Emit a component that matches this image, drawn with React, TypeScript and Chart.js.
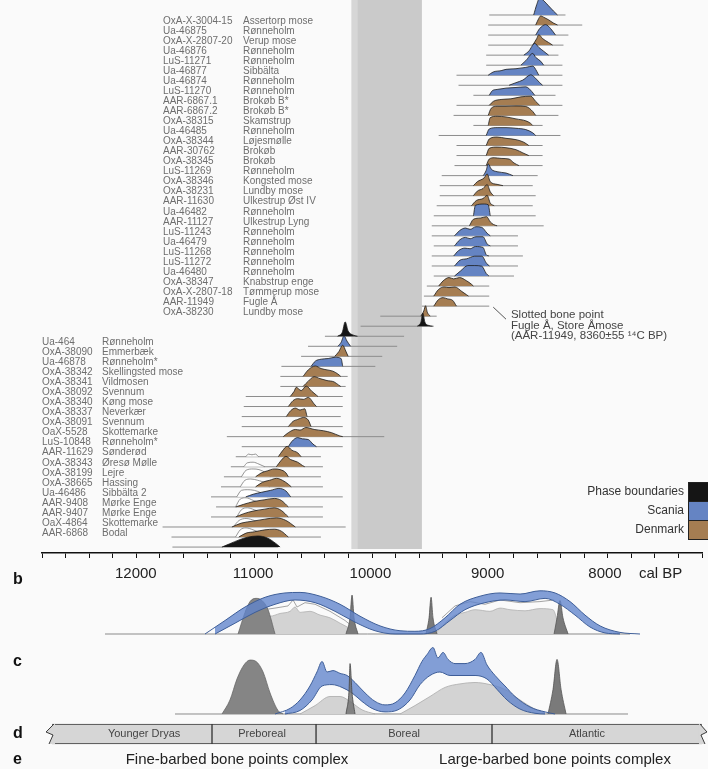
import React, { useEffect, useRef } from 'react';
import { Chart, registerables } from 'chart.js';

Chart.register(...registerables);

const FONT = '"Liberation Sans", Arial, sans-serif';

// ---------- axis ----------
const axisLeftYear = 12800;
const axisRightYear = 7173;
const fullLeftYear = 13148;
const tickStep = 200;
const tickLabels = [12000, 11000, 10000, 9000, 8000];

// grey band behind the ridges
const bandFrom = 10160;
const bandTo = 9561;

// ---------- ridge rows (top to bottom) ----------
const rowIds = [
  '', 'OxA-X-3004-15', 'Ua-46875', 'OxA-X-2807-20', 'Ua-46876', 'LuS-11271', 'Ua-46877', 'Ua-46874', 'LuS-11270',
  'AAR-6867.1', 'AAR-6867.2', 'OxA-38315', 'Ua-46485', 'OxA-38344', 'AAR-30762', 'OxA-38345', 'LuS-11269',
  'OxA-38346', 'OxA-38231', 'AAR-11630', 'Ua-46482', 'AAR-11127', 'LuS-11243', 'Ua-46479', 'LuS-11268',
  'LuS-11272', 'Ua-46480', 'OxA-38347', 'OxA-X-2807-18', 'AAR-11949', 'OxA-38230', '', '',
  'Ua-464', 'OxA-38090', 'Ua-46878', 'OxA-38342', 'OxA-38341', 'OxA-38092', 'OxA-38340', 'OxA-38337',
  'OxA-38091', 'OaX-5528', 'LuS-10848', 'AAR-11629', 'OxA-38343', 'OxA-38199', 'OxA-38665', 'Ua-46486',
  'AAR-9408', 'AAR-9407', 'OaX-4864', 'AAR-6868', '',
];
const rowSites = [
  '', 'Assertorp mose', 'Rønneholm', 'Verup mose', 'Rønneholm', 'Rønneholm', 'Sibbälta', 'Rønneholm', 'Rønneholm',
  'Brokøb B*', 'Brokøb B*', 'Skamstrup', 'Rønneholm', 'Løjesmølle', 'Brokøb', 'Brokøb', 'Rønneholm',
  'Kongsted mose', 'Lundby mose', 'Ulkestrup Øst IV', 'Rønneholm', 'Ulkestrup Lyng', 'Rønneholm', 'Rønneholm', 'Rønneholm',
  'Rønneholm', 'Rønneholm', 'Knabstrup enge', 'Tømmerup mose', 'Fugle Å', 'Lundby mose', '', '',
  'Rønneholm', 'Emmerbæk', 'Rønneholm*', 'Skellingsted mose', 'Vildmosen', 'Svennum', 'Køng mose', 'Neverkær',
  'Svennum', 'Skottemarke', 'Rønneholm*', 'Sønderød', 'Øresø Mølle', 'Lejre', 'Hassing', 'Sibbälta 2',
  'Mørke Enge', 'Mørke Enge', 'Skottemarke', 'Bodal', '',
];
// S = Scania, D = Denmark, P = phase boundary
const rowKinds = [
  'S', 'D', 'S', 'D', 'S', 'S', 'S', 'S', 'S', 'D', 'D', 'D', 'S', 'D', 'D', 'D', 'S', 'D', 'D', 'D',
  'S', 'D', 'S', 'S', 'S', 'S', 'S', 'D', 'D', 'D', 'D', 'P', 'P',
  'S', 'D', 'S', 'D', 'D', 'D', 'D', 'D', 'D', 'D', 'S', 'D', 'D', 'D', 'D', 'S', 'D', 'D', 'D', 'D', 'P',
];
const rangeFrom = [
  8987, 8996, 8996, 8996, 9013, 9013, 9266, 9249, 9122, 9266, 9291, 9122, 9418, 9266, 9266, 9283, 9392,
  9409, 9409, 9435, 9460, 9477, 9477, 9460, 9477, 9477, 9460, 9519, 9544, 9561, 9916, 10084, 10388,
  10532, 10591, 10759, 10768, 10768, 11063, 11080, 11097, 11097, 11224, 11097, 11148, 11190, 11249, 11274, 11359,
  11316, 11359, 11772, 11696, 11688,
];
const rangeTo = [
  8337, 8194, 8312, 8354, 8397, 8363, 8363, 8363, 8422, 8363, 8397, 8532, 8380, 8532, 8532, 8532, 8574,
  8616, 8591, 8616, 8591, 8523, 8742, 8742, 8700, 8742, 8776, 8987, 8987, 8987, 9435, 9460, 9713,
  9772, 9899, 9958, 10194, 10211, 10236, 10236, 10253, 10236, 9882, 10236, 10422, 10405, 10422, 10405, 10236,
  10405, 10405, 10211, 10422, 10785,
];
// posterior densities: [cal BP, relative height]
const curves = [
  [[8608, 0], [8582, 0.8], [8557, 1.3], [8523, 1.1], [8481, 0.7], [8439, 0.3], [8405, 0]],
  [[8591, 0], [8565, 0.5], [8548, 0.7], [8523, 0.6], [8481, 0.4], [8439, 0.15], [8405, 0]],
  [[8591, 0], [8557, 0.5], [8506, 0.8], [8464, 0.5], [8422, 0]],
  [[8616, 0], [8582, 0.5], [8565, 0.8], [8532, 0.5], [8481, 0.2], [8447, 0]],
  [[8692, 0], [8650, 0.3], [8599, 0.9], [8565, 0.6], [8523, 0.3], [8481, 0]],
  [[8717, 0], [8675, 0.35], [8616, 0.9], [8591, 0.6], [8548, 0.3], [8523, 0]],
  [[8996, 0], [8953, 0.25], [8886, 0.35], [8844, 0.45], [8759, 0.5], [8675, 0.6], [8616, 0.7], [8582, 0.3], [8565, 0]],
  [[8818, 0], [8759, 0.2], [8700, 0.4], [8633, 0.8], [8599, 0.6], [8557, 0.2], [8532, 0]],
  [[8987, 0], [8961, 0.35], [8920, 0.45], [8844, 0.55], [8759, 0.6], [8675, 0.65], [8625, 0.3], [8599, 0]],
  [[8987, 0], [8953, 0.3], [8886, 0.45], [8802, 0.5], [8717, 0.65], [8633, 0.7], [8591, 0.3], [8557, 0]],
  [[8996, 0], [8970, 0.55], [8920, 0.7], [8844, 0.7], [8759, 0.72], [8675, 0.68], [8616, 0.3], [8591, 0]],
  [[8996, 0], [8978, 0.6], [8920, 0.7], [8844, 0.65], [8759, 0.5], [8675, 0.35], [8633, 0.15], [8616, 0]],
  [[9013, 0], [8987, 0.5], [8920, 0.6], [8844, 0.6], [8759, 0.55], [8675, 0.45], [8616, 0.2], [8591, 0]],
  [[9013, 0], [8987, 0.5], [8920, 0.65], [8844, 0.55], [8759, 0.45], [8692, 0.25], [8650, 0]],
  [[9013, 0], [8987, 0.55], [8920, 0.65], [8844, 0.6], [8759, 0.45], [8700, 0.2], [8650, 0]],
  [[9013, 0], [8987, 0.5], [8945, 0.6], [8886, 0.55], [8818, 0.5], [8776, 0.2], [8734, 0]],
  [[9038, 0], [9013, 0.4], [8996, 0.9], [8970, 0.5], [8920, 0.3], [8844, 0.2], [8785, 0]],
  [[9122, 0], [9089, 0.3], [9030, 0.6], [9005, 0.9], [8978, 0.3], [8920, 0.1], [8870, 0]],
  [[9122, 0], [9089, 0.35], [9040, 0.55], [9005, 0.85], [8978, 0.3], [8950, 0]],
  [[9139, 0], [9097, 0.4], [9040, 0.55], [9005, 0.8], [8978, 0.2], [8945, 0]],
  [[9122, 0], [9105, 0.8], [9030, 0.9], [8996, 0.85], [8978, 0]],
  [[9156, 0], [9122, 0.5], [9060, 0.6], [9010, 0.7], [8978, 0.3], [8950, 0.1], [8920, 0]],
  [[9283, 0], [9240, 0.4], [9190, 0.6], [9150, 0.5], [9100, 0.7], [9050, 0.65], [9005, 0.2], [8978, 0]],
  [[9283, 0], [9240, 0.45], [9190, 0.65], [9150, 0.55], [9100, 0.7], [9040, 0.7], [9005, 0.15], [8978, 0]],
  [[9290, 0], [9250, 0.4], [9195, 0.6], [9150, 0.55], [9105, 0.72], [9040, 0.65], [9013, 0.1], [8990, 0]],
  [[9283, 0], [9235, 0.45], [9180, 0.55], [9110, 0.75], [9050, 0.75], [9010, 0.2], [8985, 0]],
  [[9283, 0], [9230, 0.4], [9170, 0.8], [9110, 0.8], [9050, 0.75], [9013, 0.2], [8990, 0]],
  [[9418, 0], [9380, 0.4], [9330, 0.65], [9290, 0.55], [9240, 0.65], [9180, 0.4], [9140, 0.15], [9122, 0]],
  [[9460, 0], [9420, 0.5], [9370, 0.7], [9330, 0.65], [9280, 0.7], [9220, 0.35], [9180, 0.1], [9164, 0]],
  [[9460, 0], [9420, 0.5], [9380, 0.65], [9340, 0.55], [9300, 0.45], [9266, 0]],
  [[9570, 0], [9545, 0.4], [9530, 0.8], [9515, 0.3], [9490, 0]],
  [[9600, 0], [9570, 0.3], [9553, 1.0], [9535, 0.3], [9500, 0.05], [9470, 0]],
  [[10280, 0], [10240, 0.3], [10215, 1.1], [10190, 0.4], [10150, 0.1], [10110, 0]],
  [[10278, 0], [10250, 0.3], [10225, 0.8], [10200, 0.4], [10169, 0]],
  [[10304, 0], [10270, 0.35], [10236, 0.85], [10210, 0.4], [10190, 0]],
  [[10506, 0], [10470, 0.4], [10420, 0.55], [10360, 0.6], [10300, 0.7], [10250, 0.6], [10236, 0]],
  [[10574, 0], [10530, 0.5], [10470, 0.8], [10420, 0.6], [10370, 0.5], [10320, 0.4], [10280, 0.2], [10253, 0]],
  [[10574, 0], [10530, 0.4], [10480, 0.75], [10430, 0.6], [10370, 0.45], [10310, 0.35], [10270, 0.1], [10253, 0]],
  [[10684, 0], [10650, 0.4], [10633, 0.7], [10590, 0.45], [10548, 0.8], [10500, 0.4], [10460, 0.1], [10447, 0]],
  [[10700, 0], [10660, 0.45], [10620, 0.6], [10570, 0.55], [10530, 0.7], [10480, 0.2], [10460, 0]],
  [[10717, 0], [10680, 0.45], [10640, 0.65], [10600, 0.5], [10560, 0.6], [10540, 0]],
  [[10700, 0], [10660, 0.4], [10620, 0.55], [10570, 0.7], [10530, 0.5], [10506, 0]],
  [[10743, 0], [10700, 0.3], [10640, 0.55], [10600, 0.5], [10550, 0.7], [10480, 0.55], [10400, 0.45], [10330, 0.3], [10260, 0.05], [10236, 0]],
  [[10700, 0], [10670, 0.4], [10620, 0.7], [10580, 0.6], [10530, 0.55], [10490, 0.2], [10460, 0]],
  [[10785, 0], [10750, 0.45], [10710, 0.8], [10670, 0.5], [10620, 0.3], [10591, 0]],
  [[10802, 0], [10760, 0.5], [10720, 0.8], [10680, 0.55], [10620, 0.35], [10580, 0.1], [10560, 0]],
  [[10979, 0], [10930, 0.3], [10880, 0.45], [10820, 0.6], [10770, 0.55], [10720, 0.3], [10700, 0]],
  [[10979, 0], [10920, 0.35], [10860, 0.5], [10800, 0.65], [10750, 0.5], [10700, 0.2], [10675, 0]],
  [[11063, 0], [11000, 0.2], [10930, 0.35], [10850, 0.5], [10780, 0.65], [10720, 0.45], [10680, 0]],
  [[11148, 0], [11080, 0.2], [11000, 0.4], [10900, 0.55], [10820, 0.65], [10760, 0.5], [10700, 0]],
  [[11148, 0], [11080, 0.25], [11000, 0.45], [10900, 0.6], [10820, 0.7], [10760, 0.5], [10700, 0]],
  [[11181, 0], [11100, 0.3], [11000, 0.45], [10900, 0.6], [10800, 0.7], [10720, 0.5], [10640, 0]],
  [[11122, 0], [11060, 0.3], [10990, 0.4], [10900, 0.55], [10820, 0.6], [10760, 0.45], [10700, 0]],
  [[11266, 0], [11200, 0.25], [11120, 0.55], [11050, 0.75], [10960, 0.85], [10880, 0.7], [10810, 0.3], [10770, 0]],
];
// unmodelled (outline) distributions
const priorRows = [44, 45, 46, 47, 48, 49, 50, 51, 52];
const priorCurves = [
  [[11063, 0], [11040, 0.2], [11010, 0.15], [10980, 0.2], [10954, 0]],
  [[11080, 0], [11050, 0.3], [11000, 0.35], [10950, 0.2], [10900, 0]],
  [[11100, 0], [11060, 0.5], [11000, 0.6], [10950, 0.55], [10890, 0.3], [10850, 0]],
  [[11110, 0], [11070, 0.5], [11020, 0.6], [10960, 0.5], [10900, 0.3], [10860, 0]],
  [[11140, 0], [11100, 0.5], [11050, 0.55], [10990, 0.5], [10930, 0.3], [10880, 0]],
  [[11150, 0], [11110, 0.6], [11060, 0.7], [11000, 0.5], [10940, 0.3], [10900, 0]],
  [[11140, 0], [11100, 0.55], [11050, 0.7], [10990, 0.55], [10930, 0.3], [10890, 0]],
  [[11170, 0], [11120, 0.5], [11060, 0.65], [10990, 0.5], [10930, 0.25], [10890, 0]],
  [[11150, 0], [11110, 0.55], [11060, 0.7], [11000, 0.55], [10940, 0.3], [10900, 0]],
];

const legendLabels = ['Phase boundaries', 'Scania', 'Denmark'];
const legendKinds = ['P', 'S', 'D'];

const noteLines = ['Slotted bone point', 'Fugle Å, Store Åmose', '(AAR-11949, 8360±55 ¹⁴C BP)'];

// ---------- panel b ----------
const bBase = [[12262, 0], [7831, 0]];
const bLightLeft = [[11122, 0], [11055, 0.3], [10970, 0.35], [10869, 0.33], [10785, 0.38], [10700, 0.42], [10658, 0.5], [10616, 0.4], [10532, 0.42], [10447, 0.35], [10363, 0.3], [10278, 0.2], [10194, 0.1], [10127, 0]];
const bLightRight = [[9477, 0], [9392, 0.2], [9308, 0.35], [9224, 0.4], [9139, 0.45], [9013, 0.42], [8928, 0.48], [8844, 0.45], [8717, 0.43], [8591, 0.47], [8481, 0.45], [8439, 0.2], [8405, 0]];
const bSumLeft = [[11080, 0.42], [10954, 0.44], [10827, 0.48], [10717, 0.52], [10675, 0.63], [10641, 0.5], [10574, 0.58], [10489, 0.55], [10363, 0.42], [10236, 0.25], [10152, 0.1]];
const bSumRight = [[9418, 0.3], [9308, 0.52], [9181, 0.6], [9055, 0.55], [8928, 0.63], [8759, 0.58], [8591, 0.6], [8472, 0.63]];
const bDarkHump = [[11139, 0], [11080, 0.4], [11038, 0.6], [10987, 0.66], [10937, 0.62], [10886, 0.45], [10827, 0]];
const bSpike1 = [[10228, 0], [10194, 0.3], [10177, 0.72], [10160, 0.3], [10127, 0]];
const bSpike2 = [[9553, 0], [9527, 0.3], [9510, 0.68], [9494, 0.3], [9460, 0]];
const bSpike3 = [[8472, 0], [8447, 0.3], [8422, 0.62], [8397, 0.3], [8354, 0]];
const bBlueUpper = [[11418, 0], [11249, 0.25], [11080, 0.5], [10911, 0.68], [10743, 0.76], [10616, 0.77], [10447, 0.7], [10278, 0.55], [10110, 0.33], [9941, 0.15], [9772, 0.06], [9646, 0.05], [9519, 0.1], [9392, 0.3], [9266, 0.55], [9097, 0.7], [8928, 0.76], [8759, 0.74], [8591, 0.8], [8464, 0.76], [8337, 0.6], [8211, 0.35], [8084, 0.15], [7916, 0.03], [7747, 0]];
const bBlueLower = [[11333, 0], [11165, 0.2], [10996, 0.4], [10827, 0.55], [10658, 0.63], [10489, 0.58], [10321, 0.42], [10152, 0.22], [9983, 0.06], [9814, 0], [9603, 0], [9477, 0.05], [9350, 0.25], [9224, 0.45], [9055, 0.58], [8886, 0.63], [8717, 0.6], [8548, 0.66], [8422, 0.55], [8295, 0.35], [8169, 0.13], [8042, 0.02], [7916, 0]];

// ---------- panel c ----------
const cBase = [[11671, 0], [7848, 0]];
const cLightLeft = [[10616, 0], [10489, 0.12], [10363, 0.25], [10278, 0.25], [10194, 0.18], [10093, 0.06], [9983, 0]];
const cLightRight = [[9772, 0], [9646, 0.12], [9519, 0.25], [9392, 0.38], [9266, 0.43], [9139, 0.45], [9013, 0.42], [8886, 0.35], [8759, 0.2], [8633, 0.07], [8523, 0]];
const cDarkHump = [[11274, 0], [11207, 0.2], [11148, 0.5], [11089, 0.7], [11038, 0.77], [10987, 0.75], [10928, 0.6], [10869, 0.3], [10802, 0.05], [10759, 0]];
const cSpike1 = [[10228, 0], [10202, 0.35], [10194, 0.72], [10177, 0.3], [10152, 0]];
const cSpike2 = [[8523, 0], [8481, 0.35], [8447, 0.78], [8413, 0.35], [8371, 0]];
const cBlueUpper = [[10827, 0], [10700, 0.08], [10616, 0.2], [10532, 0.4], [10473, 0.6], [10430, 0.75], [10388, 0.6], [10338, 0.62], [10278, 0.58], [10219, 0.55], [10152, 0.45], [10067, 0.3], [9983, 0.18], [9899, 0.13], [9814, 0.16], [9730, 0.3], [9646, 0.55], [9587, 0.75], [9544, 0.85], [9494, 0.95], [9452, 0.8], [9409, 0.88], [9367, 0.78], [9308, 0.72], [9224, 0.72], [9139, 0.78], [9089, 0.88], [9038, 0.7], [8970, 0.55], [8886, 0.4], [8802, 0.25], [8675, 0.1], [8548, 0.03], [8464, 0]];
const cBlueLower = [[10743, 0], [10616, 0.05], [10515, 0.2], [10430, 0.4], [10346, 0.42], [10262, 0.38], [10177, 0.3], [10093, 0.18], [10008, 0.08], [9899, 0.03], [9789, 0.06], [9688, 0.2], [9603, 0.42], [9519, 0.55], [9435, 0.6], [9350, 0.55], [9249, 0.55], [9139, 0.55], [9038, 0.5], [8953, 0.35], [8869, 0.2], [8759, 0.07], [8633, 0.01], [8548, 0]];

// ---------- panel d / e ----------
const periodNames = ['Younger Dryas', 'Preboreal', 'Boreal', 'Atlantic'];
const periodFrom = [12709, 11359, 10481, 8996];
const periodTo = [11359, 10481, 8996, 7224];
const periodLabelAt = [11932, 10937, 9738, 8194];
const complexNames = ['Fine-barbed bone points complex', 'Large-barbed bone points complex'];
const complexAt = [11148, 8464];

const kindFill: any = { S: '#6584c3', D: '#a57d52', P: '#151515' };
const RIDGE_H = 1.3;

function area(points: number[][], opts: any) {
  return {
    type: 'line',
    data: points.map(([x, y]) => ({ x, y })),
    pointRadius: 0,
    borderWidth: 1,
    cubicInterpolationMode: 'monotone',
    ...opts,
  };
}

const baseOptions = (xmin: number, xmax: number, ymin: number, ymax: number, reverseY: boolean) => ({
  animation: false,
  responsive: false,
  events: [],
  layout: { padding: 0 },
  plugins: { legend: { display: false }, tooltip: { enabled: false } },
  scales: {
    x: { type: 'linear', min: xmin, max: xmax, reverse: true, display: false },
    y: { type: 'linear', min: ymin, max: ymax, reverse: reverseY, display: false },
  },
});

export default function App() {
  const mainRef = useRef<HTMLCanvasElement>(null);
  const bRef = useRef<HTMLCanvasElement>(null);
  const cRef = useRef<HTMLCanvasElement>(null);
  const dRef = useRef<HTMLCanvasElement>(null);

  useEffect(() => {
    const charts: any[] = [];

    // ---------- main ridge chart ----------
    const datasets: any[] = [];
    let order = 100000;
    for (let r = 0; r < rowKinds.length; r++) {
      datasets.push({
        type: 'line',
        data: [{ x: rangeFrom[r], y: r }, { x: rangeTo[r], y: r }],
        borderColor: '#8c8c8c', borderWidth: 1, pointRadius: 0, fill: false, order: order--,
      });
      const pi = priorRows.indexOf(r);
      if (pi >= 0) {
        datasets.push(area(priorCurves[pi].map(([x, h]) => [x, r - h * RIDGE_H]), {
          borderColor: '#7a7a7a', borderWidth: 0.8, backgroundColor: 'rgba(255,255,255,0.85)',
          fill: { value: r }, order: order--,
        }));
      }
      datasets.push(area(curves[r].map(([x, h]) => [x, r - h * RIDGE_H]), {
        borderColor: '#1a1a1a', borderWidth: 0.8, backgroundColor: kindFill[rowKinds[r]],
        fill: { value: r }, order: order--,
      }));
    }

    const mainDecor = {
      id: 'mainDecor',
      beforeDatasetsDraw(chart: any) {
        const { ctx, chartArea, scales } = chart;
        const x1 = scales.x.getPixelForValue(bandFrom);
        const x2 = scales.x.getPixelForValue(bandTo);
        ctx.save();
        ctx.fillStyle = '#cacaca';
        ctx.fillRect(x1, chartArea.top, x2 - x1, chartArea.bottom - 4 - chartArea.top);
        ctx.fillStyle = '#d6d6d6';
        ctx.fillRect(x1, chartArea.top, 6, chartArea.bottom - 4 - chartArea.top);
        ctx.restore();
      },
      afterDraw(chart: any) {
        const { ctx, chartArea, scales } = chart;
        const xs = scales.x, ys = scales.y;
        ctx.save();
        ctx.font = `10px ${FONT}`;
        ctx.fillStyle = '#6e6e6e';
        ctx.textBaseline = 'middle';
        ctx.textAlign = 'left';
        for (let r = 0; r < rowIds.length; r++) {
          if (!rowIds[r]) continue;
          const yy = ys.getPixelForValue(r) - 4;
          const top = r <= 30;
          ctx.fillText(rowIds[r], top ? 163 : 42, yy);
          ctx.fillText(rowSites[r], top ? 243 : 102, yy);
        }
        // legend
        ctx.font = `12px ${FONT}`;
        ctx.textAlign = 'right';
        for (let i = 0; i < legendLabels.length; i++) {
          const yy = 482 + i * 19;
          ctx.fillStyle = kindFill[legendKinds[i]];
          ctx.fillRect(688, yy, 20, 19);
          ctx.strokeStyle = '#222';
          ctx.lineWidth = 1;
          ctx.strokeRect(688.5, yy + 0.5, 20, 19);
          ctx.fillStyle = '#333';
          ctx.fillText(legendLabels[i], 684, yy + 10);
        }
        // annotation
        ctx.strokeStyle = '#555';
        ctx.lineWidth = 1;
        ctx.beginPath();
        ctx.moveTo(xs.getPixelForValue(8953), ys.getPixelForValue(29.1));
        ctx.lineTo(xs.getPixelForValue(8844), ys.getPixelForValue(30.3));
        ctx.stroke();
        ctx.font = `11.5px ${FONT}`;
        ctx.fillStyle = '#444';
        ctx.textAlign = 'left';
        noteLines.forEach((t, i) => ctx.fillText(t, xs.getPixelForValue(8802), ys.getPixelForValue(29.9 + i * 1.05)));
        // tick labels + unit
        ctx.font = `15px ${FONT}`;
        ctx.fillStyle = '#222';
        ctx.textAlign = 'center';
        const ly = chartArea.bottom + 21;
        tickLabels.forEach((v) => ctx.fillText(String(v), xs.getPixelForValue(v), ly));
        ctx.textAlign = 'left';
        ctx.fillText('cal BP', xs.getPixelForValue(8000) + 34, ly);
        // panel letter b
        ctx.font = `bold 16px ${FONT}`;
        ctx.fillStyle = '#111';
        ctx.fillText('b', 13, 580);
        ctx.restore();
      },
    };

    charts.push(new Chart(mainRef.current as any, {
      type: 'line',
      data: { datasets },
      options: {
        animation: false,
        responsive: false,
        events: [],
        layout: { padding: { left: 42, right: 0, top: 0, bottom: 0 } },
        plugins: { legend: { display: false }, tooltip: { enabled: false } },
        scales: {
          x: {
            type: 'linear', min: axisRightYear, max: axisLeftYear, reverse: true,
            afterFit: (s: any) => { s.height = 47; },
            border: { display: true, color: '#111', width: 1.5 },
            grid: { drawOnChartArea: false, drawTicks: true, tickLength: 5, tickColor: '#111', tickWidth: 1 },
            ticks: {
              stepSize: tickStep, includeBounds: false, autoSkip: false, maxRotation: 0, minRotation: 0,
              padding: 6, color: 'rgba(0,0,0,0)', font: { family: FONT, size: 15 },
              callback: () => '',
            },
          },
          y: { type: 'linear', min: -1.494, max: 53.59, reverse: true, display: false },
        },
      } as any,
      plugins: [mainDecor],
    } as any));

    // ---------- panel b ----------
    charts.push(new Chart(bRef.current as any, {
      type: 'line',
      data: {
        datasets: [
          area(bBase, { borderColor: '#8a8a8a', fill: false, order: 11 }),
          area(bLightLeft, { borderColor: '#b0b0b0', borderWidth: 0.8, backgroundColor: '#d3d3d3', fill: 'origin', order: 10 }),
          area(bLightRight, { borderColor: '#b0b0b0', borderWidth: 0.8, backgroundColor: '#d3d3d3', fill: 'origin', order: 9 }),
          area(bSumLeft, { borderColor: '#8d8d8d', borderWidth: 0.8, fill: false, cubicInterpolationMode: 'default', order: 8 }),
          area(bSumRight, { borderColor: '#8d8d8d', borderWidth: 0.8, fill: false, cubicInterpolationMode: 'default', order: 7 }),
          area(bDarkHump, { borderColor: '#666', borderWidth: 0.8, backgroundColor: '#858585', fill: 'origin', order: 6 }),
          area(bSpike1, { borderColor: '#555', borderWidth: 0.8, backgroundColor: '#7a7a7a', fill: 'origin', order: 5 }),
          area(bSpike2, { borderColor: '#555', borderWidth: 0.8, backgroundColor: '#7a7a7a', fill: 'origin', order: 4 }),
          area(bSpike3, { borderColor: '#555', borderWidth: 0.8, backgroundColor: '#7a7a7a', fill: 'origin', order: 3 }),
          area(bBlueUpper, { borderColor: '#3d5d97', borderWidth: 1, backgroundColor: 'rgba(96,132,204,0.78)', fill: '+1', order: 2 }),
          area(bBlueLower, { borderColor: '#3d5d97', borderWidth: 1, fill: false, order: 1 }),
        ],
      },
      options: baseOptions(axisRightYear, fullLeftYear, -0.111, 1, false) as any,
    } as any));

    // ---------- panel c ----------
    const cDecor = {
      id: 'cDecor',
      afterDraw(chart: any) {
        const { ctx } = chart;
        ctx.save();
        ctx.font = `bold 16px ${FONT}`;
        ctx.fillStyle = '#111';
        ctx.textBaseline = 'middle';
        ctx.fillText('c', 13, 26);
        ctx.restore();
      },
    };
    charts.push(new Chart(cRef.current as any, {
      type: 'line',
      data: {
        datasets: [
          area(cBase, { borderColor: '#8a8a8a', fill: false, order: 9 }),
          area(cLightLeft, { borderColor: '#a9a9a9', borderWidth: 0.8, backgroundColor: '#d3d3d3', fill: 'origin', order: 8 }),
          area(cLightRight, { borderColor: '#a9a9a9', borderWidth: 0.8, backgroundColor: '#d3d3d3', fill: 'origin', order: 7 }),
          area(cDarkHump, { borderColor: '#666', borderWidth: 0.8, backgroundColor: '#858585', fill: 'origin', order: 6 }),
          area(cSpike2, { borderColor: '#555', borderWidth: 0.8, backgroundColor: '#7a7a7a', fill: 'origin', order: 5 }),
          area(cBlueUpper, { borderColor: '#3d5d97', borderWidth: 1, backgroundColor: 'rgba(96,132,204,0.78)', fill: '+1', order: 3 }),
          area(cBlueLower, { borderColor: '#3d5d97', borderWidth: 1, fill: false, order: 2 }),
          area(cSpike1, { borderColor: '#444', borderWidth: 0.8, backgroundColor: 'rgba(110,110,110,0.8)', fill: 'origin', order: 1 }),
        ],
      },
      options: baseOptions(axisRightYear, fullLeftYear, -0.0857, 1.114, false) as any,
      plugins: [cDecor],
    } as any));

    // ---------- panel d / e ----------
    const barFill = '#d6d6d6';
    const dDecor = {
      id: 'dDecor',
      afterDraw(chart: any) {
        const { ctx, scales } = chart;
        const xs = scales.x;
        const cy = scales.y.getPixelForValue(0);
        const top = cy - 10, bottom = cy + 10;
        ctx.save();
        // break marks at both ends
        const left = xs.getPixelForValue(periodFrom[0]);
        const right = xs.getPixelForValue(periodTo[periodTo.length - 1]);
        ctx.fillStyle = barFill;
        ctx.strokeStyle = '#3a3a3a';
        ctx.lineWidth = 1;
        ctx.beginPath();
        ctx.moveTo(left + 2, top); ctx.lineTo(left - 6, top + 8); ctx.lineTo(left + 1, top + 11);
        ctx.lineTo(left - 3, bottom); ctx.lineTo(left + 3, bottom); ctx.lineTo(left + 3, top); ctx.closePath();
        ctx.fill();
        ctx.beginPath();
        ctx.moveTo(left + 2, top); ctx.lineTo(left - 6, top + 8); ctx.lineTo(left + 1, top + 11); ctx.lineTo(left - 3, bottom);
        ctx.stroke();
        ctx.beginPath();
        ctx.moveTo(right - 2, top); ctx.lineTo(right + 5, top + 8); ctx.lineTo(right - 1, top + 11);
        ctx.lineTo(right + 3, bottom); ctx.lineTo(right - 3, bottom); ctx.lineTo(right - 3, top); ctx.closePath();
        ctx.fill();
        ctx.beginPath();
        ctx.moveTo(right - 2, top); ctx.lineTo(right + 5, top + 8); ctx.lineTo(right - 1, top + 11); ctx.lineTo(right + 3, bottom);
        ctx.stroke();
        // period names
        ctx.font = `11px ${FONT}`;
        ctx.fillStyle = '#444';
        ctx.textAlign = 'center';
        ctx.textBaseline = 'middle';
        periodNames.forEach((n, i) => ctx.fillText(n, xs.getPixelForValue(periodLabelAt[i]), cy));
        // complexes (panel e)
        ctx.font = `15px ${FONT}`;
        ctx.fillStyle = '#222';
        complexNames.forEach((n, i) => ctx.fillText(n, xs.getPixelForValue(complexAt[i]), 46));
        // panel letters
        ctx.font = `bold 16px ${FONT}`;
        ctx.fillStyle = '#111';
        ctx.textAlign = 'left';
        ctx.fillText('d', 13, cy);
        ctx.fillText('e', 13, 46);
        ctx.restore();
      },
    };
    charts.push(new Chart(dRef.current as any, {
      type: 'bar',
      data: {
        labels: ['d'],
        datasets: periodNames.map((n, i) => ({
          label: n,
          data: [[periodFrom[i], periodTo[i]]],
          backgroundColor: barFill,
          borderColor: '#3a3a3a',
          borderWidth: { top: 1, bottom: 1, left: i === 0 ? 0 : 1, right: i === periodNames.length - 1 ? 0 : 1 },
          borderSkipped: false,
          barThickness: 20,
          grouped: false,
        })),
      },
      options: {
        indexAxis: 'y',
        animation: false,
        responsive: false,
        events: [],
        layout: { padding: { top: 0, bottom: 15, left: 0, right: 0 } },
        plugins: { legend: { display: false }, tooltip: { enabled: false } },
        scales: {
          x: { type: 'linear', min: axisRightYear, max: fullLeftYear, reverse: true, display: false },
          y: { type: 'category', display: false },
        },
      } as any,
      plugins: [dDecor],
    } as any));

    return () => charts.forEach((c) => c.destroy());
  }, []);

  const abs = (top: number): any => ({ position: 'absolute', left: 0, top });
  return (
    <div style={{ position: 'fixed', left: 0, top: 0, width: 708, height: 769, overflow: 'hidden', background: '#fafafa' }}>
      <canvas ref={mainRef} width={708} height={600} style={abs(0)} />
      <canvas ref={bRef} width={708} height={60} style={abs(580)} />
      <canvas ref={cRef} width={708} height={84} style={abs(636)} />
      <canvas ref={dRef} width={708} height={55} style={abs(714)} />
    </div>
  );
}
